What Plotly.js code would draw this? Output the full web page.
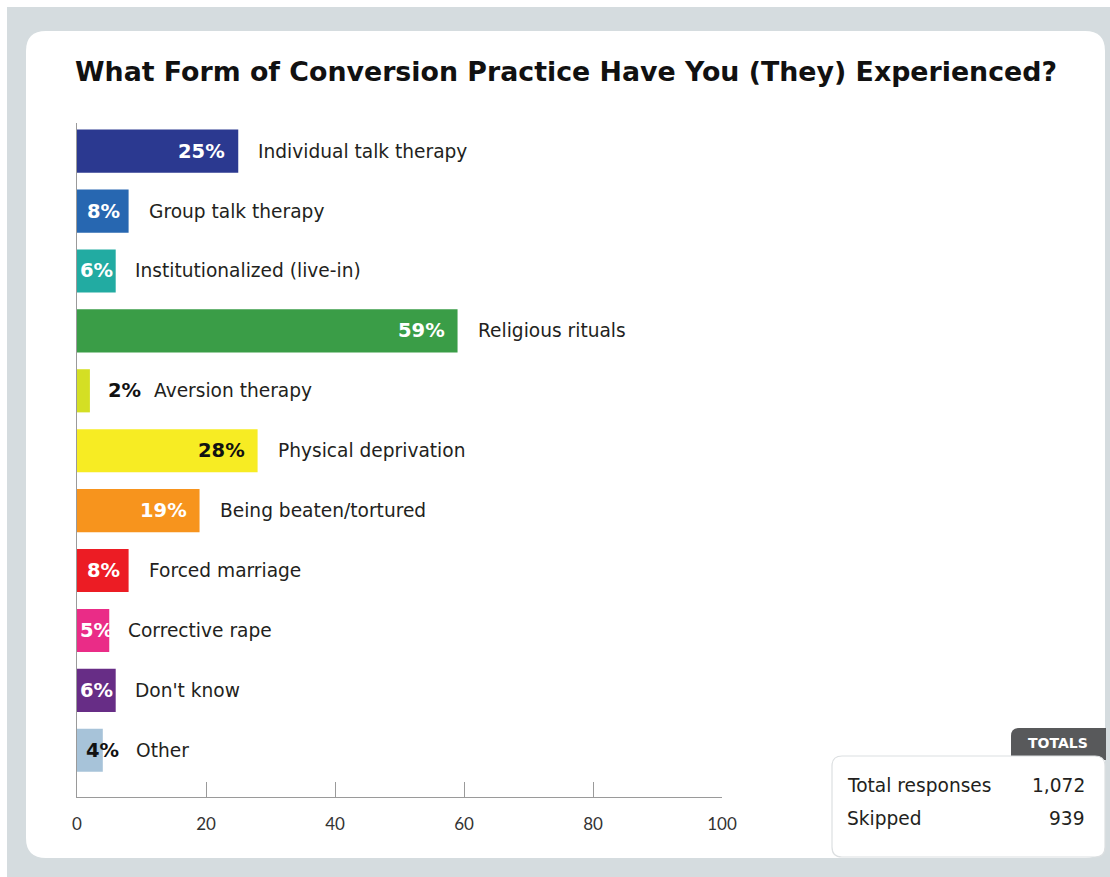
<!DOCTYPE html>
<html>
<head>
<meta charset="utf-8">
<script src="https://cdn.plot.ly/plotly-3.0.1.min.js"></script>
<style>
  html, body { margin: 0; padding: 0; background: #ffffff; }
  #chart { width: 1110px; height: 877px; }
</style>
</head>
<body>
<div id="chart"></div>
<script>
// ---- data ----
const categories = [
  "Individual talk therapy",
  "Group talk therapy",
  "Institutionalized (live-in)",
  "Religious rituals",
  "Aversion therapy",
  "Physical deprivation",
  "Being beaten/tortured",
  "Forced marriage",
  "Corrective rape",
  "Don't know",
  "Other"
];
const percents = [25, 8, 6, 59, 2, 28, 19, 8, 5, 6, 4];
const barColors = ["#2b3990", "#2767b1", "#22aba2", "#3a9d47", "#d4df24", "#f7ec23",
                   "#f7941d", "#ec1c24", "#ea2c87", "#672d86", "#a7c3d9"];
const valueTextColors = ["#ffffff", "#ffffff", "#ffffff", "#ffffff", "#111111", "#111111",
                         "#ffffff", "#ffffff", "#ffffff", "#ffffff", "#111111"];
const xTicks = [0, 20, 40, 60, 80, 100];
const chartTitle = "What Form of Conversion Practice Have You (They) Experienced?";
const totalsHeader = "TOTALS";
const totalsLabels = ["Total responses", "Skipped"];
const totalsValues = ["1,072", "939"];

// ---- geometry helpers (pixel -> paper) ----
const W = 1110, H = 877;
const M = {l: 77, r: 388, t: 123, b: 80};
const PW = W - M.l - M.r, PH = H - M.t - M.b;
const px = x => (x - M.l) / PW;
const py = y => (H - M.b - y) / PH;

function roundRect(x0, y0, x1, y1, r, corners) {
  const c = corners || [true, true, true, true];
  const rx = r / PW, ry = r / PH;
  const X0 = px(x0), X1 = px(x1), Y0 = py(y0), Y1 = py(y1);
  let p = "";
  p += `M ${c[0] ? X0 + rx : X0},${Y0} `;
  p += `L ${c[1] ? X1 - rx : X1},${Y0} `;
  if (c[1]) p += `Q ${X1},${Y0} ${X1},${Y0 - ry} `;
  p += `L ${X1},${c[2] ? Y1 + ry : Y1} `;
  if (c[2]) p += `Q ${X1},${Y1} ${X1 - rx},${Y1} `;
  p += `L ${c[3] ? X0 + rx : X0},${Y1} `;
  if (c[3]) p += `Q ${X0},${Y1} ${X0},${Y1 + ry} `;
  p += `L ${X0},${c[0] ? Y0 - ry : Y0} `;
  if (c[0]) p += `Q ${X0},${Y0} ${X0 + rx},${Y0} `;
  p += "Z";
  return p;
}

const shapes = [
  {type: "rect", xref: "paper", yref: "paper", x0: px(7), x1: px(1110), y0: py(7), y1: py(877),
   fillcolor: "#d5dcdf", line: {width: 0}, layer: "below"},
  {type: "path", xref: "paper", yref: "paper", path: roundRect(26, 31, 1105, 858, 20),
   fillcolor: "#ffffff", line: {width: 0}, layer: "below"},
  {type: "path", xref: "paper", yref: "paper", path: roundRect(1011, 728, 1106, 760, 8, [true, false, false, false]),
   fillcolor: "#58595b", line: {width: 0}, layer: "below"},
  {type: "path", xref: "paper", yref: "paper", path: roundRect(832, 756, 1105, 857, 10),
   fillcolor: "#ffffff", line: {width: 1.2, color: "#dcdfe1"}, layer: "below"}
];

// ---- annotations ----
const annotations = [];
const valueFont = {family: "DejaVu Sans", size: 19.5, weight: "bold"};
const labelFont = {family: "DejaVu Sans", size: 18.6, color: "#231f20"};

categories.forEach((cat, i) => {
  const v = percents[i];
  let vx = v, vAnchor, vShift, cShift;
  if (v < 3) { vAnchor = "left"; vShift = 16; cShift = 62; }
  else if (v < 5) { vAnchor = "center"; vShift = 0; cShift = 31; }
  else if (v < 7) { vx = 0; vAnchor = "left"; vShift = 1; cShift = 17; }
  else { vAnchor = "right"; vShift = v >= 10 ? -11 : -7; cShift = 18; }
  annotations.push({
    x: vx, y: cat, xref: "x", yref: "y", text: v + "%", showarrow: false,
    xanchor: vAnchor, xshift: vShift, yanchor: "middle",
    font: Object.assign({}, valueFont, {color: valueTextColors[i]})
  });
  annotations.push({
    x: v, y: cat, xref: "x", yref: "y", text: cat, showarrow: false,
    xanchor: "left", xshift: cShift, yanchor: "middle", font: labelFont
  });
});

annotations.push({
  xref: "paper", yref: "paper", x: px(1058), y: py(743), text: totalsHeader, showarrow: false,
  xanchor: "center", yanchor: "middle",
  font: {family: "DejaVu Sans", size: 14, weight: "bold", color: "#ffffff"}
});
const rowY = [785, 819];
totalsLabels.forEach((t, i) => {
  annotations.push({
    xref: "paper", yref: "paper", x: px(845), y: py(rowY[i]), text: t, showarrow: false,
    xanchor: "left", yanchor: "middle", font: labelFont
  });
  annotations.push({
    xref: "paper", yref: "paper", x: px(1087), y: py(rowY[i]), text: totalsValues[i], showarrow: false,
    xanchor: "right", yanchor: "middle", font: labelFont
  });
});

const trace = {
  type: "bar", orientation: "h",
  y: categories, x: percents,
  marker: {color: barColors, line: {width: 0}},
  width: 0.72,
  hoverinfo: "none", textposition: "none"
};

const layout = {
  width: W, height: H,
  margin: M,
  paper_bgcolor: "#ffffff",
  plot_bgcolor: "rgba(0,0,0,0)",
  showlegend: false,
  title: {
    text: "<b>" + chartTitle + "</b>",
    x: 75 / W, xanchor: "left", xref: "container",
    y: 1 - 72 / H, yanchor: "middle", yref: "container",
    font: {family: "DejaVu Sans", size: 26.8, color: "#111111"}
  },
  xaxis: {
    range: [0, 100], tickvals: xTicks, ticktext: xTicks.map(String),
    ticks: "inside", ticklen: 15, tickcolor: "#9a9a9a", tickwidth: 1,
    showline: true, linecolor: "#9a9a9a", linewidth: 1,
    showgrid: false, zeroline: false, fixedrange: true,
    ticklabelstandoff: 12,
    tickfont: {family: "Lato", size: 17, color: "#333333"}
  },
  yaxis: {
    type: "category", categoryorder: "array", categoryarray: categories,
    range: [10.78, -0.47],
    showticklabels: false, ticks: "",
    showline: true, linecolor: "#9a9a9a", linewidth: 1.5,
    showgrid: false, zeroline: false, fixedrange: true
  },
  shapes: shapes,
  annotations: annotations
};

Plotly.newPlot("chart", [trace], layout, {displayModeBar: false, staticPlot: true});
</script>
</body>
</html>
